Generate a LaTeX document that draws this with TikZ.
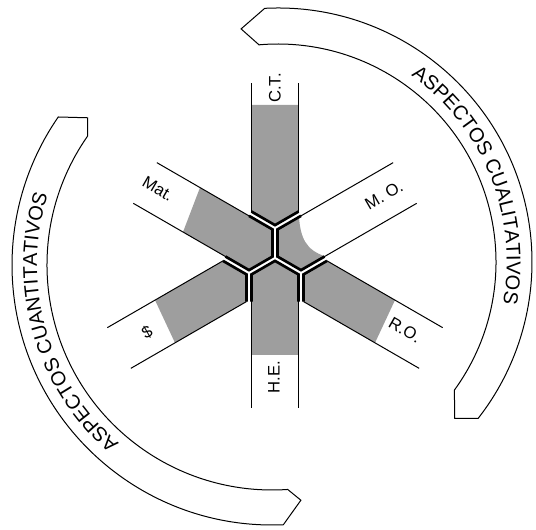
\documentclass[tikz,border=0pt]{standalone}
\usepackage{fontspec}
\setmainfont{Liberation Sans}
\usetikzlibrary{decorations.text}

\newcommand{\bandfont}{\fontsize{15}{18}\selectfont}

\tikzset{every picture/.style={line width=0.75pt}}
\tikzset{
  hexedge/.style={line width=2pt},
  barshade/.style={fill={rgb, 255:red, 158; green, 158; blue, 158}},
  bandshape/.style={draw, fill=white},
  barlabel/.style={inner sep=0.75pt, font=\fontsize{12.5}{15}\selectfont},
}

\begin{document}
\begin{tikzpicture}[x=0.75pt,y=0.75pt,yscale=-1,xscale=1]
\useasboundingbox (0,0) rectangle (536,530);

%Shape: Band [upper right]
\draw [bandshape] ([shift={(278,262)}]-93:254) arc [start angle=-93, end angle=38, radius=254] -- ([shift={(278,262)}]41.5:236) -- ([shift={(278,262)}]36:218) arc [start angle=36, end angle=-95, radius=218] -- ([shift={(278,262)}]-99:236) -- cycle ;
%Shape: Band [lower left]
\draw [bandshape] ([shift={(272,265)}]87.5:260) arc [start angle=87.5, end angle=214.7, radius=260] -- ([shift={(272,265)}]218.6:236) -- ([shift={(272,265)}]215:225) arc [start angle=215, end angle=86, radius=225] -- ([shift={(272,265)}]83:237) -- cycle ;

%Shape: Shading of the bars
\fill [barshade] (251.5,105) -- (251.5,211.57) -- (275,225.13) -- (298.5,211.57) -- (298.5,105) -- cycle ;
\fill [barshade] (251.5,355) -- (251.5,274.43) -- (275,260.87) -- (298.5,274.43) -- (298.5,355) -- cycle ;
\fill [barshade] (200,187.58) -- (272.5,229.43) -- (272.5,256.57) -- (249,270.13) -- (183,232.03) -- cycle ;
\fill [barshade] (299,217.03) .. controls (300.5,238) and (306,250) .. (325,256.27) -- (301,270.13) -- (277.5,256.57) -- (277.5,229.43) -- cycle ;
\fill [barshade] (395,300.12) -- (327,260.87) -- (303.5,274.43) -- (303.5,301.57) -- (375,342.87) -- cycle ;
\fill [barshade] (155,300.12) -- (223,260.87) -- (246.5,274.43) -- (246.5,301.57) -- (175,342.87) -- cycle ;

%Straight Lines: sides of the bars
\draw  (251.5,211.57) -- (251.5,83) ;
\draw  (298.5,211.57) -- (298.5,83) ;
\draw  (251.5,274.43) -- (251.5,408) ;
\draw  (298.5,274.43) -- (298.5,408) ;
\draw  (272.5,229.43) -- (156.83,162.64) ;
\draw  (249,270.13) -- (133.33,203.34) ;
\draw  (277.5,229.43) -- (393.17,162.64) ;
\draw  (301,270.13) -- (416.67,203.34) ;
\draw  (327,260.87) -- (442.67,327.66) ;
\draw  (303.5,301.57) -- (419.17,368.36) ;
\draw  (223,260.87) -- (107.33,327.66) ;
\draw  (246.5,301.57) -- (130.83,368.36) ;

%Shape: Hexagon edges at the centre
\draw [hexedge] (251.5,211.57) -- (275,225.13) -- (298.5,211.57) ;
\draw [hexedge] (298.5,301.57) -- (298.5,274.43) -- (275,260.87) -- (251.5,274.43) -- (251.5,301.57) ;
\draw [hexedge] (249,215.87) -- (272.5,229.43) -- (272.5,256.57) -- (249,270.13) -- (225.5,256.57) ;
\draw [hexedge] (301,215.87) -- (277.5,229.43) -- (277.5,256.57) -- (301,270.13) -- (324.5,256.57) ;
\draw [hexedge] (327,260.87) -- (303.5,274.43) -- (303.5,301.57) ;
\draw [hexedge] (223,260.87) -- (246.5,274.43) -- (246.5,301.57) ;

% Text Node
\draw (275,88) node [barlabel, rotate=90] (ct) {C.T.};
% Text Node
\draw (274,377) node [barlabel, rotate=90] (he) {H.E.};
% Text Node
\draw (158,189) node [barlabel, rotate=-30] (mat) {Mat.};
% Text Node
\draw (384,195) node [barlabel, rotate=30] (mo) {M. O.};
% Text Node
\draw (405,330) node [barlabel, rotate=-30] (ro) {R.O.};
% Text Node
\draw (147,332) node [barlabel, rotate=30] (dollar) {\$};

% Text along the bands
\begin{scope}[yscale=-1]
\path [decorate, decoration={text along path, text align=center, text={|\bandfont|ASPECTOS CUALITATIVOS}}] ([shift={(278,-262)}]56:228.8) arc [start angle=56, end angle=-12, radius=228.8] ;
\path [decorate, decoration={text along path, text align=center, text={|\bandfont|ASPECTOS CUANTITATIVOS}}] ([shift={(272,-265)}]232:235) arc [start angle=232, end angle=160, radius=235] ;
\end{scope}

\end{tikzpicture}
\end{document}
